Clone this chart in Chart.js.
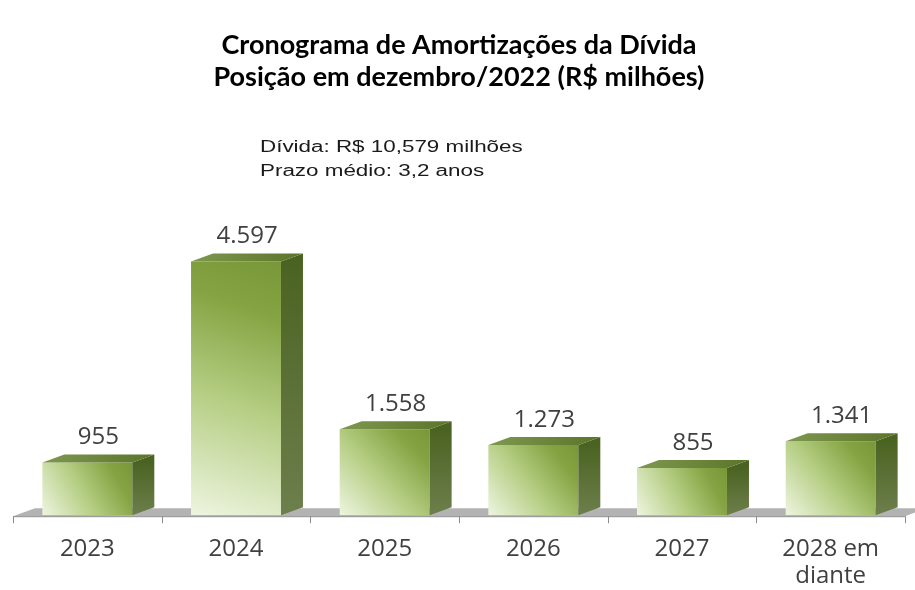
<!DOCTYPE html>
<html>
<head>
<meta charset="utf-8">
<script src="https://cdn.jsdelivr.net/npm/chart.js@4/dist/chart.umd.min.js"></script>
<style>
  html, body { margin: 0; padding: 0; background: #fff; }
  #wrap { width: 915px; height: 590px; }
</style>
</head>
<body>
<div id="wrap"><canvas id="amortizacoes"></canvas></div>
<script>
// dados
const anos = ['2023', '2024', '2025', '2026', '2027', ['2028 em', 'diante']];
const valores = [955, 4597, 1558, 1273, 855, 1341];
const notas = ['Dívida: R$ 10,579 milhões', 'Prazo médio: 3,2 anos'];

const PROF_X = 22;   // profundidade 3d
const PROF_Y = 8;

function fmt(v) {
  return v.toString().replace(/\B(?=(\d{3})+(?!\d))/g, '.');
}

// gradiente da face frontal
function frente(ctx) {
  const chart = ctx.chart;
  const sx = chart.scales.x, sy = chart.scales.y;
  if (!sx || !sy || ctx.dataIndex === undefined) return '#8fb04c';
  const cx = sx.getPixelForValue(ctx.dataIndex);
  const w = 90;
  const top = sy.getPixelForValue(valores[ctx.dataIndex]);
  const base = sy.getPixelForValue(0);
  if (![cx, top, base].every(Number.isFinite)) return '#8fb04c';
  const g = chart.ctx.createLinearGradient(cx - w / 2, base, cx + w / 2, top);
  g.addColorStop(0, '#eef5e0');
  g.addColorStop(0.45, '#b4cd82');
  g.addColorStop(0.8, '#85a342');
  g.addColorStop(1, '#789738');
  return g;
}

const efeito3d = {
  id: 'efeito3d',
  beforeDatasetsDraw(chart) {
    const c = chart.ctx, a = chart.chartArea;
    const b = chart.scales.y.getPixelForValue(0);
    // piso cinza
    c.save();
    c.fillStyle = '#b3b3b3';
    c.beginPath();
    c.moveTo(a.left, b + 1);
    c.lineTo(a.left + PROF_X, b + 1 - PROF_Y);
    c.lineTo(a.right + PROF_X, b + 1 - PROF_Y);
    c.lineTo(a.right, b + 1);
    c.closePath();
    c.fill();
    // eixo e marcas
    c.strokeStyle = '#8c8c8c';
    c.lineWidth = 1;
    c.beginPath();
    c.moveTo(a.left, b + 1.5);
    c.lineTo(a.right, b + 1.5);
    const n = anos.length;
    const step = (a.right - a.left) / n;
    for (let i = 0; i <= n; i++) {
      const x = Math.round(a.left + i * step) + 0.5;
      c.moveTo(x, b + 1);
      c.lineTo(x, b + 8);
    }
    c.stroke();
    c.restore();
  },
  afterDatasetsDraw(chart) {
    const c = chart.ctx;
    const meta = chart.getDatasetMeta(0);
    c.save();
    meta.data.forEach((bar, i) => {
      const l = bar.x - bar.width / 2, r = bar.x + bar.width / 2;
      const t = bar.y, bs = bar.base;
      // lateral
      let g = c.createLinearGradient(r, t, r, bs);
      g.addColorStop(0, '#4b6322');
      g.addColorStop(1, '#6d7f4c');
      c.fillStyle = g;
      c.beginPath();
      c.moveTo(r, t);
      c.lineTo(r + PROF_X, t - PROF_Y);
      c.lineTo(r + PROF_X, bs - PROF_Y);
      c.lineTo(r, bs);
      c.closePath();
      c.fill();
      // topo
      g = c.createLinearGradient(l, t, r + PROF_X, t - PROF_Y);
      g.addColorStop(0, '#7f9850');
      g.addColorStop(1, '#5a7428');
      c.fillStyle = g;
      c.beginPath();
      c.moveTo(l, t);
      c.lineTo(l + PROF_X, t - PROF_Y);
      c.lineTo(r + PROF_X, t - PROF_Y);
      c.lineTo(r, t);
      c.closePath();
      c.fill();
      // rótulo
      c.fillStyle = '#404040';
      c.font = '24px "Open Sans", sans-serif';
      c.textAlign = 'center';
      c.textBaseline = 'middle';
      c.fillText(fmt(valores[i]), bar.x + PROF_X / 2, t - 25);
    });
    // nota (texto original é esticado na horizontal)
    c.fillStyle = '#1a1a1a';
    c.font = '16px "Liberation Sans", Arial, sans-serif';
    c.textAlign = 'left';
    c.textBaseline = 'alphabetic';
    c.translate(260, 0);
    c.scale(1.4, 1);
    notas.forEach((s, k) => c.fillText(s, 0, 152 + k * 24));
    c.restore();
  }
};

const chart = new Chart(document.getElementById('amortizacoes'), {
  type: 'bar',
  data: {
    labels: anos,
    datasets: [{
      label: 'Amortizações',
      data: valores,
      backgroundColor: frente,
      borderWidth: 0,
      barPercentage: 0.605,
      categoryPercentage: 1
    }]
  },
  options: {
    responsive: true,
    maintainAspectRatio: false,
    animation: false,
    layout: { padding: { top: 0, left: 13, right: 10, bottom: -20 } },
    plugins: {
      legend: { display: false },
      tooltip: { enabled: false },
      title: {
        display: true,
        text: ['Cronograma de Amortizações da Dívida', 'Posição em dezembro/2022 (R$ milhões)'],
        color: '#000',
        font: { family: 'Lato', size: 27, weight: 'bold', lineHeight: 1.185 },
        padding: { top: 29, bottom: 7 }
      }
    },
    scales: {
      x: {
        grid: { display: false, drawTicks: false },
        border: { display: false },
        ticks: {
          color: '#404040',
          font: { family: 'Open Sans', size: 24, lineHeight: 1.1 },
          padding: 21,
          maxRotation: 0,
          autoSkip: false
        }
      },
      y: {
        display: false,
        min: 0,
        max: 7520
      }
    }
  },
  plugins: [efeito3d]
});
</script>
</body>
</html>
